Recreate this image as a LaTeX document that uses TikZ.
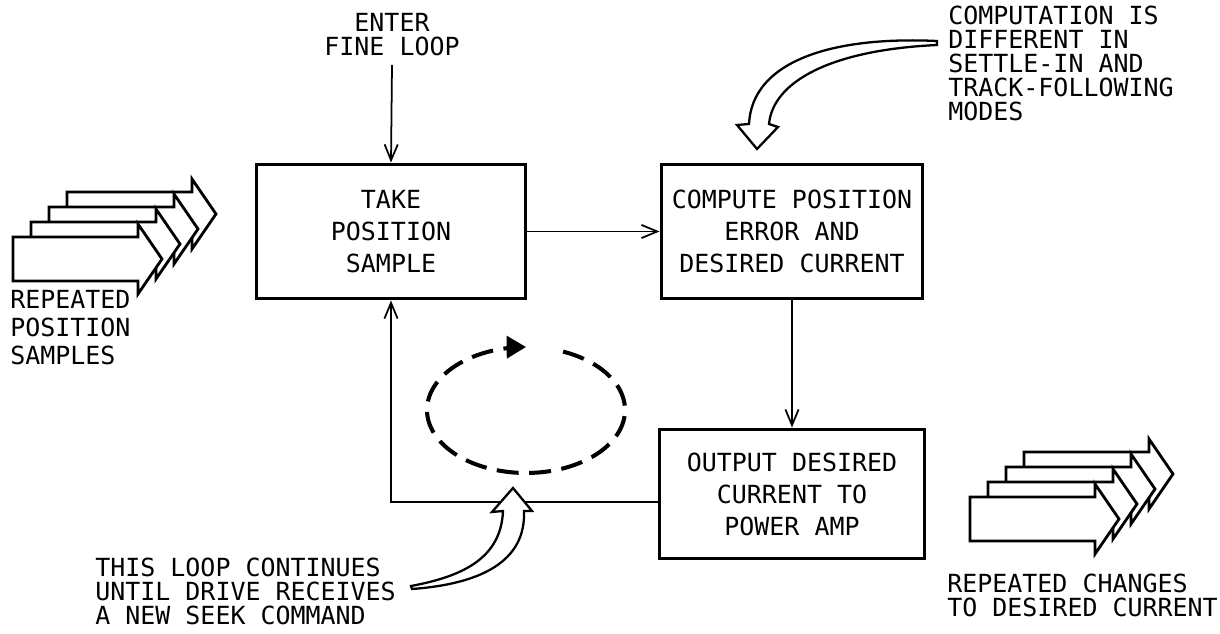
\documentclass[tikz,border=0pt]{standalone}
\usepackage{fontspec}
\setmonofont{DejaVu Sans Mono}
\usetikzlibrary{arrows.meta}
\begin{document}
\begin{tikzpicture}[x=0.02cm,y=-0.02cm,
  txt/.style={font=\ttfamily\fontsize{14.2}{#1}\selectfont, inner sep=0pt, text=black},
  txt/.default=13.66,
  box/.style={draw, line width=1.7pt, inner sep=0pt, font=\ttfamily\fontsize{14.2}{18.2}\selectfont, align=center},
  conn/.style={line width=1pt, -{Straight Barb[length=9pt,width=7.5pt]}},
  blockarrow/.style={draw, fill=white, line width=1.6pt, line join=miter},
  hollow/.style={draw, fill=white, line width=1.3pt, line join=miter},
  loopdash/.style={line width=2.3pt, dash pattern=on 12.5pt off 6pt, -{Triangle[length=11pt,width=12.5pt]}},
  blk/.pic={\draw[blockarrow] (0,0) -- (125,0) -- (125,-13) -- (149,22) -- (125,57) -- (125,44) -- (0,44) -- cycle;}
]
\useasboundingbox (0,0) rectangle (1220,634);

% boxes
\node[box, minimum width=5.4cm, minimum height=2.7cm] (take) at (391,231.5) {TAKE\\POSITION\\SAMPLE};
\node[box, minimum width=5.24cm, minimum height=2.7cm] (compute) at (792,231.5) {COMPUTE POSITION\\ERROR AND\\DESIRED CURRENT};
\node[box, minimum width=5.32cm, minimum height=2.6cm] (output) at (792,494) {OUTPUT DESIRED\\CURRENT TO\\POWER AMP};

% texts
\node[txt, anchor=north, align=center] (enter) at (392,13) {ENTER\\FINE LOOP};
\node[txt, anchor=north west, align=left] (note1) at (948,6) {COMPUTATION IS\\DIFFERENT IN\\SETTLE-IN AND\\TRACK-FOLLOWING\\MODES};
\node[txt=15.9, anchor=north west, align=left] (rps) at (10,290) {REPEATED\\POSITION\\SAMPLES};
\node[txt, anchor=north west, align=left] (rcdc) at (947,574) {REPEATED CHANGES\\TO DESIRED CURRENT};
\node[txt, anchor=north west, align=left] (note2) at (95,558) {THIS LOOP CONTINUES\\UNTIL DRIVE RECEIVES\\A NEW SEEK COMMAND};

% connectors
\coordinate (entry) at (392,65);
\coordinate (loopcorner) at (391,502);
\draw[conn] (entry) -- (take.north);
\draw[conn] (take.east) -- (compute.west);
\draw[conn] (compute.south) -- (output.north);
\draw[conn] (output.west |- loopcorner) -- (loopcorner) -- (take.south);

% dashed loop
\draw[loopdash] plot[domain=292:630, samples=150, smooth] ({526+99*cos(\x)}, {410+63*sin(\x)});

% hollow curved arrows
\draw[hollow] (937,41) .. controls (830,36) and (752,62) .. (749,124) -- (737,125) -- (757,149) -- (778,127) -- (769,124) .. controls (773,82) and (830,50) .. (937,45) -- cycle;
\draw[hollow] (411,586) .. controls (465,576) and (501,557) .. (503,511) -- (492,512) -- (513,488) -- (532,511) -- (524,511) .. controls (526,562) and (480,584) .. (412,589) -- cycle;

% stacked block arrows
\foreach \k in {3,2,1,0} {
  \pic at ({13+18*\k},{237-15*\k}) {blk};
  \pic at ({970+18*\k},{497-15*\k}) {blk};
}
\end{tikzpicture}
\end{document}
